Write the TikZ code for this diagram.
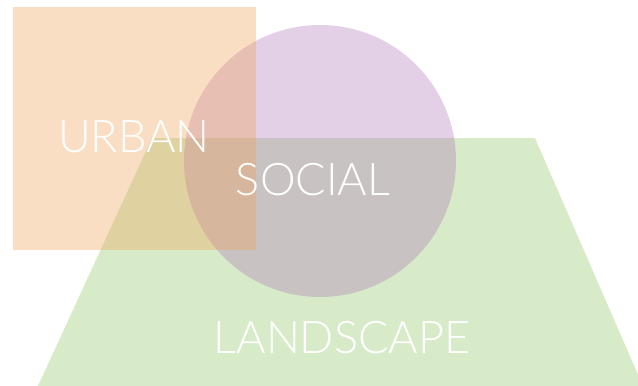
\documentclass[tikz,border=0pt]{standalone}
\usepackage{fontspec}
\setmainfont{Lato}[UprightFont=* Light]
\definecolor{urbanc}{RGB}{241,161,84}
\definecolor{socialc}{RGB}{175,118,184}
\definecolor{landc}{RGB}{141,198,101}
\begin{document}
\begin{tikzpicture}[x=1pt, y=-1pt, line join=round,
  label/.style={text=white, inner sep=0pt, anchor=base, font=\fontsize{45}{45}\selectfont}]
	\def\op{0.35} % same opacity for all three shapes
	\useasboundingbox (0,0) rectangle (638,386);
	\clip (0,0) rectangle (638,386);
	% landscape
	\fill[landc, fill opacity=\op] (38,386) -- (152,138) -- (535,138) -- (643,386) -- cycle;
	% social
	\fill[socialc, fill opacity=\op] (320,161) circle (136);
	% urban
	\fill[urbanc, fill opacity=\op] (12.5,6.5) rectangle (256,250);
	\node[label] (urban) at (134,152) {URBAN};
	\node[label] (social) at (313,195) {SOCIAL};
	\node[label] (landscape) at (342,353) {LANDSCAPE};
\end{tikzpicture}
\end{document}
